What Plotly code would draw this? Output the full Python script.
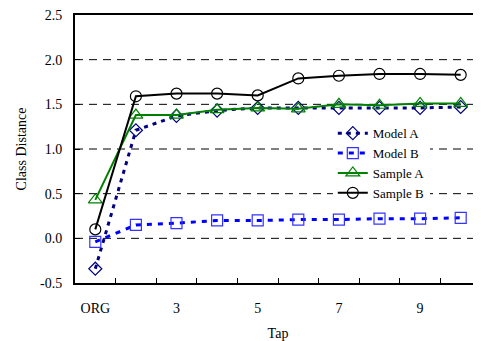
import plotly.graph_objects as go

categories = ["ORG", "2", "3", "4", "5", "6", "7", "8", "9", "10"]
tick_labels = ["ORG", "", "3", "", "5", "", "7", "", "9", ""]
model_a = [-0.34, 1.21, 1.37, 1.43, 1.46, 1.46, 1.46, 1.46, 1.46, 1.47]
model_b = [-0.04, 0.15, 0.17, 0.20, 0.20, 0.21, 0.21, 0.22, 0.22, 0.23]
sample_a = [0.43, 1.38, 1.38, 1.44, 1.46, 1.45, 1.50, 1.49, 1.51, 1.51]
sample_b = [0.10, 1.59, 1.62, 1.62, 1.60, 1.79, 1.82, 1.84, 1.84, 1.83]
y_ticks = [-0.5, 0.0, 0.5, 1.0, 1.5, 2.0, 2.5]
y_tick_labels = ["-0.5", "0.0", "0.5", "1.0", "1.5", "2.0", "2.5"]
grid_values = [0.0, 0.5, 1.0, 1.5, 2.0]

FONT = "Liberation Serif"

fig = go.Figure()
fig.add_trace(go.Scatter(
    x=categories, y=model_a, name="Model A", mode="lines+markers",
    line=dict(color="#000080", width=3, dash="4px,5px"),
    marker=dict(symbol="diamond-open", size=10, color="#000080", line=dict(width=1.2)),
))
fig.add_trace(go.Scatter(
    x=categories, y=model_b, name="Model B", mode="lines+markers",
    line=dict(color="#0000FF", width=3, dash="5px,6px"),
    marker=dict(symbol="square-open", size=11, color="#3333FF", line=dict(width=1.2)),
))
fig.add_trace(go.Scatter(
    x=categories, y=sample_a, name="Sample A", mode="lines+markers",
    line=dict(color="#008000", width=2),
    marker=dict(symbol="triangle-up-open", size=12, color="#008000", line=dict(width=1.2)),
))
fig.add_trace(go.Scatter(
    x=categories, y=sample_b, name="Sample B", mode="lines+markers",
    line=dict(color="#000000", width=2),
    marker=dict(symbol="circle-open", size=11, color="#000000", line=dict(width=1.2)),
))

# the page body adds an 8px margin, so the figure is 8px smaller than the window
fig.update_layout(
    width=473, height=333,
    margin=dict(l=67, r=0, t=5, b=58),
    paper_bgcolor="white", plot_bgcolor="white",
    font=dict(family=FONT, size=14, color="black"),
    showlegend=True,
    legend=dict(
        x=0.635, y=0.615, xanchor="left", yanchor="top",
        bgcolor="white", borderwidth=0,
        font=dict(family=FONT, size=13, color="black"),
        tracegroupgap=0, itemwidth=30,
    ),
)
fig.update_xaxes(
    type="category",
    categoryorder="array", categoryarray=categories,
    range=[-0.5, 9.5],
    tickmode="array", tickvals=categories, ticktext=tick_labels,
    tickfont=dict(family=FONT, size=14, color="black"),
    tickson="boundaries",
    ticks="inside", ticklen=5, tickcolor="black",
    showline=True, linecolor="black", linewidth=2, mirror=True,
    showgrid=False, zeroline=False,
    ticklabelstandoff=11, ticklabeloverflow="allow",
    title=dict(text="Tap", font=dict(family=FONT, size=14), standoff=14),
)
fig.update_yaxes(
    range=[-0.5, 2.5],
    tickmode="array", tickvals=y_ticks, ticktext=y_tick_labels,
    tickfont=dict(family=FONT, size=14, color="black"),
    ticks="inside", ticklen=5, tickcolor="black",
    showline=True, linecolor="black", linewidth=2,
    showgrid=False, zeroline=False,
    ticklabelstandoff=8, ticklabeloverflow="allow",
    title=dict(text="Class Distance", font=dict(family=FONT, size=14), standoff=10),
)
for g in grid_values:
    fig.add_shape(type="line", xref="paper", yref="y", x0=0, x1=1, y0=g, y1=g,
                  line=dict(color="black", width=1, dash="8px,6px"), layer="below")

fig.write_html("out.html")
